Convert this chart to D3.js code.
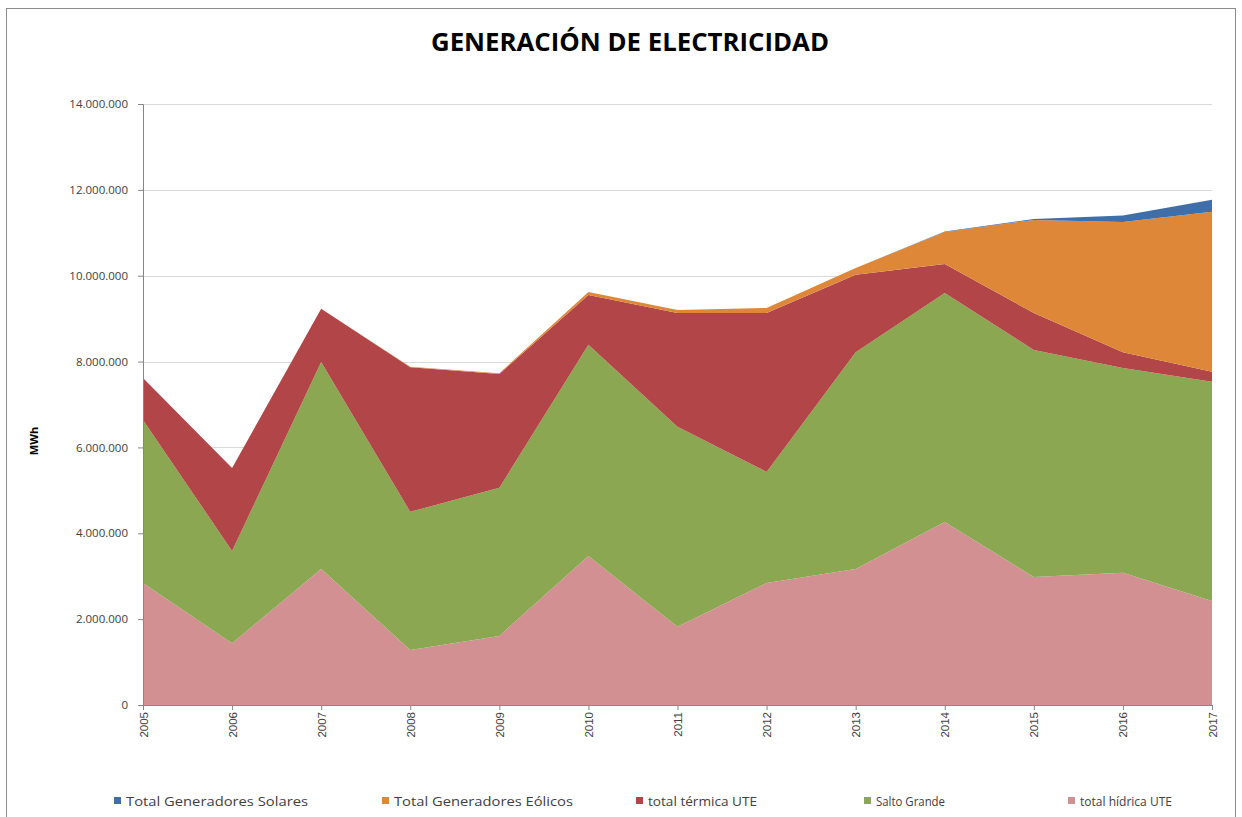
<!DOCTYPE html>
<html>
<head>
<meta charset="utf-8">
<script src="https://cdn.jsdelivr.net/npm/d3@7"></script>
<style>
  body { margin: 0; background: #fff; }
  svg { display: block; font-family: "Open Sans", "Liberation Sans", sans-serif; }
</style>
</head>
<body>
<svg width="1242" height="817"></svg>
<script>
// data (MWh)
const years = [2005, 2006, 2007, 2008, 2009, 2010, 2011, 2012, 2013, 2014, 2015, 2016, 2017];
const hidrica = [2840000, 1440000, 3170000, 1280000, 1610000, 3470000, 1820000, 2840000, 3170000, 4260000, 2980000, 3080000, 2420000];
const saltoGrande = [3800000, 2150000, 4820000, 3220000, 3450000, 4920000, 4660000, 2590000, 5050000, 5340000, 5290000, 4770000, 5110000];
const termica = [980000, 1930000, 1240000, 3370000, 2650000, 1160000, 2650000, 3700000, 1800000, 670000, 860000, 370000, 230000];
const eolicos = [0, 0, 0, 10000, 20000, 70000, 70000, 120000, 160000, 750000, 2170000, 3030000, 3730000];
const solares = [0, 0, 0, 0, 0, 0, 0, 0, 0, 10000, 20000, 150000, 280000];
const yTicks = [0, 2000000, 4000000, 6000000, 8000000, 10000000, 12000000, 14000000];

// bottom-to-top stacking order
const seriesKeys = ['hidrica', 'salto', 'termica', 'eolicos', 'solares'];
const seriesNames = {
  solares: 'Total Generadores Solares',
  eolicos: 'Total Generadores Eólicos',
  termica: 'total térmica UTE',
  salto: 'Salto Grande',
  hidrica: 'total hídrica UTE'
};
const colors = {
  hidrica: '#d39092',
  salto: '#8ba752',
  termica: '#b14547',
  eolicos: '#de8739',
  solares: '#3f6ea9'
};
const legendOrder = ['solares', 'eolicos', 'termica', 'salto', 'hidrica'];

const table = years.map((y, i) => ({
  year: y,
  hidrica: hidrica[i],
  salto: saltoGrande[i],
  termica: termica[i],
  eolicos: eolicos[i],
  solares: solares[i]
}));

const svg = d3.select('svg');
const width = +svg.attr('width');
const height = +svg.attr('height');

const margin = { left: 143, right: 30, top: 104, bottom: 112 };
const innerW = width - margin.left - margin.right;
const innerH = height - margin.top - margin.bottom;

// chart border
svg.append('rect')
    .attr('x', 6.5)
    .attr('y', 8.5)
    .attr('width', 1229)
    .attr('height', 830)
    .attr('fill', 'none')
    .attr('stroke', '#8c8c8c')
    .attr('stroke-width', 1);

svg.append('text')
    .attr('x', 630)
    .attr('y', 51)
    .attr('text-anchor', 'middle')
    .attr('font-size', 25)
    .attr('font-weight', 'bold')
    .attr('textLength', 398)
    .attr('lengthAdjust', 'spacingAndGlyphs')
    .attr('fill', '#000')
    .text('GENERACIÓN DE ELECTRICIDAD');

const g = svg.append('g')
    .attr('transform', `translate(${margin.left}, ${margin.top})`);

const x = d3.scalePoint()
    .domain(years)
    .range([0, innerW]);

const y = d3.scaleLinear()
    .domain([0, 14000000])
    .range([innerH, 0]);

const locale = d3.formatLocale({ decimal: ',', thousands: '.', grouping: [3], currency: ['', ''] });
const fmt = locale.format(',d');

// gridlines
g.append('g')
  .selectAll('line')
  .data(yTicks.slice(1))
  .join('line')
    .attr('x1', 0)
    .attr('x2', innerW)
    .attr('y1', d => Math.round(y(d)) + 0.5)
    .attr('y2', d => Math.round(y(d)) + 0.5)
    .attr('stroke', '#d9d9d9');

const stack = d3.stack().keys(seriesKeys);
const layers = stack(table);

const area = d3.area()
    .x(d => x(d.data.year))
    .y0(d => y(d[0]))
    .y1(d => y(d[1]));

g.append('g')
  .selectAll('path')
  .data(layers)
  .join('path')
    .attr('d', area)
    .attr('fill', d => colors[d.key]);

// y axis
const yAxis = g.append('g')
    .call(d3.axisLeft(y).tickValues(yTicks).tickFormat(fmt).tickSize(5).tickPadding(10));
yAxis.select('.domain').attr('stroke', '#868686');
yAxis.selectAll('.tick line').attr('stroke', '#868686');
yAxis.selectAll('text')
    .attr('font-size', 11.5)
    .attr('fill', '#404040')
    .attr('font-family', '"Open Sans", sans-serif');

// x axis
const xAxis = g.append('g')
    .attr('transform', `translate(0, ${innerH})`)
    .call(d3.axisBottom(x).tickSize(5).tickPadding(6));
xAxis.select('.domain').attr('stroke', '#868686');
xAxis.selectAll('.tick line').attr('stroke', '#868686');
xAxis.selectAll('text')
    .attr('font-size', 11.5)
    .attr('fill', '#404040')
    .attr('transform', 'rotate(-90)')
    .attr('text-anchor', 'end')
    .attr('dy', '0.35em')
    .attr('x', -7)
    .attr('y', 0);

// y axis title
svg.append('text')
    .attr('transform', 'translate(38, 441) rotate(-90)')
    .attr('text-anchor', 'middle')
    .attr('font-size', 11)
    .attr('font-weight', 'bold')
    .attr('fill', '#000')
    .text('MWh');

// legend
const legendX = [118, 386, 640, 868, 1072];
const legendW = [182, 179, 109, 69, 92];
const legend = svg.append('g')
  .selectAll('g')
  .data(legendOrder)
  .join('g')
    .attr('transform', (d, i) => `translate(${legendX[i]}, 801)`);

legend.append('rect')
    .attr('x', -4)
    .attr('y', -4)
    .attr('width', 7)
    .attr('height', 7)
    .attr('fill', d => colors[d]);

legend.append('text')
    .attr('x', 8)
    .attr('dy', '0.35em')
    .attr('font-size', 13)
    .attr('fill', '#404040')
    .attr('textLength', (d, i) => legendW[i])
    .attr('lengthAdjust', 'spacingAndGlyphs')
    .text(d => seriesNames[d]);
</script>
</body>
</html>
